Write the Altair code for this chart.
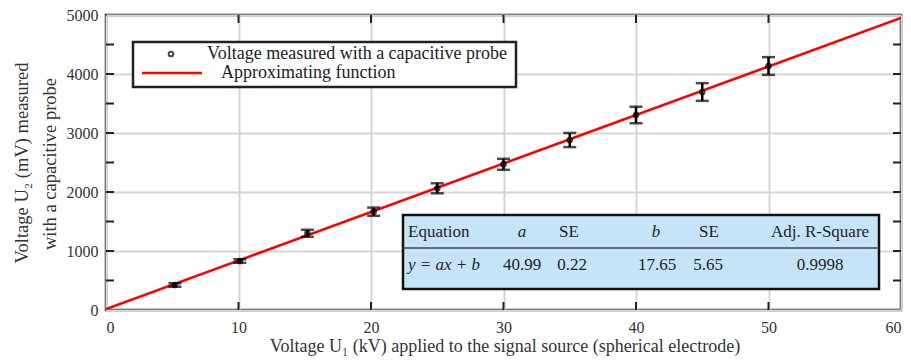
import altair as alt
import pandas as pd

# ---- data ----
u1_kv = [5.2, 10.1, 15.2, 20.2, 25.0, 30.0, 35.0, 40.0, 45.0, 50.0]
u2_mv = [424, 830, 1300, 1666, 2063, 2469, 2881, 3305, 3695, 4136]
u2_err = [30, 30, 60, 70, 85, 93, 120, 140, 150, 150]

fit_x = [0, 60]
fit_y = [15, 4950]

x_tick_values = [0, 10, 20, 30, 40, 50, 60]
y_tick_values = [0, 500, 1000, 1500, 2000, 2500, 3000, 3500, 4000, 4500, 5000]
x_inner_ticks = [10, 20, 30, 40, 50]
y_inner_ticks = [500, 1000, 1500, 2000, 2500, 3000, 3500, 4000, 4500]

table_header = ["Equation", "a", "SE", "b", "SE", "Adj. R-Square"]
table_values = ["y = ax + b", "40.99", "0.22", "17.65", "5.65", "0.9998"]

legend_labels = ["Voltage measured with a capacitive probe", "Approximating function"]
x_title = "Voltage U\u2081 (kV) applied to the signal source (spherical electrode)"
y_title = ["Voltage U\u2082 (mV) measured", "with a capacitive probe"]

FONT = "Liberation Serif"
W, H = 795, 295

pts = pd.DataFrame({"x": u1_kv, "y": u2_mv, "e": u2_err})
pts["lo"] = pts["y"] - pts["e"]
pts["hi"] = pts["y"] + pts["e"]
fit = pd.DataFrame({"x": fit_x, "y": fit_y})

xs = alt.Scale(domain=[0, 60], nice=False)
ys = alt.Scale(domain=[0, 5000], nice=False)

axis_style = dict(grid=True, domain=False, ticks=False, labelFont=FONT, labelFontSize=16,
                  labelColor="#333", gridColor="#d6d6d6", gridWidth=2, format="d", title=None)

base_line = alt.Chart(fit).mark_line(color="#ff0000", strokeWidth=2.5, clip=True).encode(
    x=alt.X("x:Q", scale=xs, axis=alt.Axis(values=x_tick_values, labelPadding=9, **axis_style)),
    y=alt.Y("y:Q", scale=ys, axis=alt.Axis(values=y_tick_values, labelPadding=8, **axis_style)),
)

err_rule = alt.Chart(pts).mark_rule(color="#000", strokeWidth=2.5).encode(
    x=alt.X("x:Q", scale=xs), y=alt.Y("lo:Q", scale=ys), y2="hi:Q")
cap_lo = alt.Chart(pts).mark_tick(color="#000", thickness=2.5, size=13, orient="horizontal").encode(
    x=alt.X("x:Q", scale=xs), y=alt.Y("lo:Q", scale=ys))
cap_hi = alt.Chart(pts).mark_tick(color="#000", thickness=2.5, size=13, orient="horizontal").encode(
    x=alt.X("x:Q", scale=xs), y=alt.Y("hi:Q", scale=ys))
points = alt.Chart(pts).mark_point(shape="circle", filled=False, color="#000", size=22, strokeWidth=2).encode(
    x=alt.X("x:Q", scale=xs), y=alt.Y("y:Q", scale=ys))

xt = pd.DataFrame({"v": x_inner_ticks})
yt = pd.DataFrame({"v": y_inner_ticks})
TL = 8
ticks = [
    alt.Chart(xt).mark_rule(color="#222", strokeWidth=2).encode(
        x=alt.X("v:Q", scale=xs), y=alt.value(H - TL), y2=alt.value(H)),
    alt.Chart(xt).mark_rule(color="#222", strokeWidth=2).encode(
        x=alt.X("v:Q", scale=xs), y=alt.value(0), y2=alt.value(TL)),
    alt.Chart(yt).mark_rule(color="#222", strokeWidth=2).encode(
        y=alt.Y("v:Q", scale=ys), x=alt.value(0), x2=alt.value(TL)),
    alt.Chart(yt).mark_rule(color="#222", strokeWidth=2).encode(
        y=alt.Y("v:Q", scale=ys), x=alt.value(W - TL), x2=alt.value(W)),
]

one = pd.DataFrame({"k": [0]})

# legend box
legend = [
    alt.Chart(one).mark_rect(fill="white", stroke="#222", strokeWidth=2.5).encode(
        x=alt.value(27), x2=alt.value(410), y=alt.value(27), y2=alt.value(72)),
    alt.Chart(one).mark_point(shape="circle", filled=False, color="#000", size=22, strokeWidth=2).encode(
        x=alt.value(65), y=alt.value(39)),
    alt.Chart(one).mark_rule(color="#ff0000", strokeWidth=2.5).encode(
        x=alt.value(36), x2=alt.value(96), y=alt.value(58)),
    alt.Chart(one).mark_text(text=legend_labels[0], font=FONT, fontSize=18, align="left",
                             baseline="middle", color="#222").encode(x=alt.value(101), y=alt.value(39)),
    alt.Chart(one).mark_text(text=legend_labels[1], font=FONT, fontSize=18, align="left",
                             baseline="middle", color="#222").encode(x=alt.value(115), y=alt.value(58)),
]

# fit-parameter table
table = [
    alt.Chart(one).mark_rect(fill="#c6e4f8", stroke="#111", strokeWidth=2.5).encode(
        x=alt.value(297), x2=alt.value(773), y=alt.value(200), y2=alt.value(274)),
    alt.Chart(one).mark_rule(color="#444", strokeWidth=1.5).encode(
        x=alt.value(297), x2=alt.value(773), y=alt.value(233)),
]
header_x = [302, 416, 463, 550, 603, 714]
value_x = [302, 416, 466, 551, 602, 714]
italic_header = [False, True, False, True, False, False]
for i, t in enumerate(table_header):
    table.append(alt.Chart(one).mark_text(
        text=t, font=FONT, fontSize=17, align="left" if i == 0 else "center", baseline="middle",
        fontStyle="italic" if italic_header[i] else "normal", color="#222").encode(
        x=alt.value(header_x[i]), y=alt.value(217)))
for i, t in enumerate(table_values):
    table.append(alt.Chart(one).mark_text(
        text=t, font=FONT, fontSize=17, align="left" if i == 0 else "center", baseline="middle",
        fontStyle="italic" if i == 0 else "normal", color="#222").encode(
        x=alt.value(value_x[i]), y=alt.value(250)))

titles = [
    alt.Chart(one).mark_text(text=x_title, font=FONT, fontSize=18, align="center", baseline="middle",
                             color="#333").encode(x=alt.value(399), y=alt.value(332)),
    alt.Chart(one).mark_text(text=y_title[0], font=FONT, fontSize=18.5, align="center", baseline="middle",
                             angle=270, color="#333").encode(x=alt.value(-84), y=alt.value(148)),
    alt.Chart(one).mark_text(text=y_title[1], font=FONT, fontSize=18.5, align="center", baseline="middle",
                             angle=270, color="#333").encode(x=alt.value(-56), y=alt.value(149)),
]

chart = alt.layer(base_line, *ticks, err_rule, cap_lo, cap_hi, points, *legend, *table, *titles).properties(
    width=W, height=H,
    autosize=alt.AutoSizeParams(type="none"),
    padding={"left": 106, "top": 15, "right": 10, "bottom": 51},
    background="white",
).configure_view(stroke="#222", strokeWidth=2.5)

chart.save("out.html", embed_options={"renderer": "svg", "actions": False})
